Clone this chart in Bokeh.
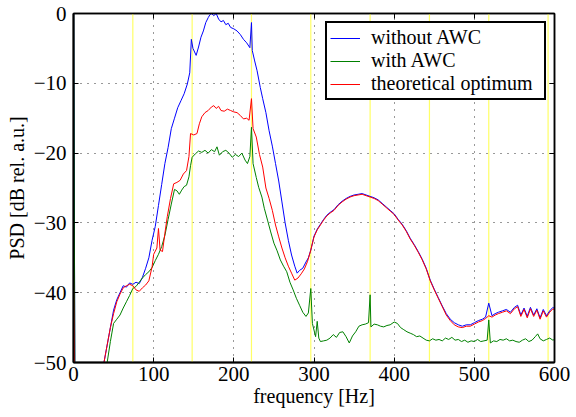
from bokeh.plotting import figure
from bokeh.models import Span, LinearAxis, FixedTicker, Range1d, Legend, LegendItem
from bokeh.embed import file_html
from bokeh.resources import INLINE

# ---- data ----
harmonics = [74, 148, 222, 296, 370, 444, 518, 592]

f_without = [0, 2, 38, 42, 46, 50, 54, 58, 62, 66, 70, 74, 78, 82, 86, 90, 94, 98, 102, 106,
             110, 114, 118, 122, 126, 130, 134, 138, 142, 145, 147, 149, 153, 156, 159, 162,
             165, 168, 170, 172, 175, 178, 181, 184, 187, 190, 193, 196, 200, 204, 208, 212,
             216, 220, 222, 223, 226, 229, 233, 236, 240, 244, 248, 252, 256, 260, 264, 268,
             272, 276, 279, 282, 286, 290, 293, 296,
             300, 304, 308, 312, 316, 320, 325, 330, 335, 340, 345, 350, 355, 360, 365, 370,
             375, 380, 385, 390, 395, 400, 405, 410, 415, 420, 425, 430, 435, 440, 445, 450,
             455, 460, 465, 470, 475, 480, 485, 490, 495, 500, 505, 510, 514, 518, 522, 526,
             530, 535, 540, 545, 550, 554, 558, 562, 566, 570, 574, 578, 582, 586, 590, 594,
             598, 600]
psd_without = [5, -60, -50, -47.5, -45, -42.5, -41, -40, -39, -39.2, -38.6, -38.8, -38.5, -38.7,
               -37.8, -36.5, -35, -32.5, -30.5, -27.5, -24.5, -21.5, -19.2, -16.5, -15, -13.5,
               -12.5, -11.5, -10.1, -8.5, -3.7, -5, -6.0, -4.8, -3.4, -2.5, -1.3, -0.6, -0.2, 0,
               -0.3, 0, -0.8, -1.2, -1.0, -1.6, -1.4, -2.0, -2.2, -2.5, -3.0, -3.7, -4.2, -4.9,
               -1.3, -5.3, -6.8, -8.2, -10.6, -12.2, -14.2, -16.8, -19.0, -21.5, -24, -27, -30,
               -32.5, -34.6, -36.2, -37.2, -36.8, -36.5, -35.6, -35.0, -33.9,
               -31.9, -30.9, -30.2, -29.5, -28.9, -28.5, -28.1, -27.4, -26.9, -26.5, -26.2,
               -26.0, -25.9, -25.8, -26.0, -26.2, -26.4, -26.7, -27.2, -27.7, -28.2, -28.7,
               -29.5, -30.2, -31.1, -32.2, -33.1, -34.1, -35.2, -36.5, -38.2, -39.5, -40.7,
               -41.9, -43.0, -43.8, -44.3, -44.6, -44.8, -44.6, -44.6, -44.3, -44.0, -43.8,
               -43.5, -41.5, -43.3, -43.0, -42.8, -42.6, -42.4, -42.8, -42.1, -41.8, -43.2,
               -42.2, -43.4, -42.1, -43.2, -42.3, -43.6, -42.4, -43.3, -42.6, -42.1, -42.3]

f_optimum = [0, 2, 38, 42, 46, 50, 54, 58, 62, 66, 70, 74, 78, 82, 86, 90, 94, 98, 100, 104,
             106, 108, 111, 114, 117, 121, 125, 129, 133, 137, 141, 144, 146, 150, 154, 157,
             160, 164, 168, 172, 175, 178, 181, 184, 188, 192, 196, 200, 204, 208, 212, 216,
             219, 222, 224, 228, 232, 236, 240, 244, 248, 252, 256, 260, 264, 268, 272, 276,
             280, 284, 288, 292, 296,
             300, 304, 308, 312, 316, 320, 325, 330, 335, 340, 345, 350, 355, 360, 365, 370,
             375, 380, 385, 390, 395, 400, 405, 410, 415, 420, 425, 430, 435, 440, 445, 450,
             455, 460, 465, 470, 475, 480, 485, 490, 495, 500, 505, 510, 514, 518, 522, 526,
             530, 535, 540, 545, 550, 554, 558, 562, 566, 570, 574, 578, 582, 586, 590, 594,
             598, 600]
psd_optimum = [-36.5, -60, -50, -47.5, -45, -43, -41.3, -40.2, -39.3, -39.0, -38.8, -39.0,
               -39.6, -39.8, -39.3, -38.9, -38.3, -36.3, -34.5, -33.6, -30.8, -33.9, -34.1,
               -31.5, -29.1, -26.5, -24.4, -24.2, -23.9, -23.0, -22.5, -20.5, -17.2, -17.4,
               -17.2, -15.8, -14.8, -14.2, -13.9, -13.4, -13.2, -13.6, -13.3, -13.9, -14.0,
               -13.7, -13.9, -14.1, -14.2, -14.6, -15.1, -15.0, -15.3, -12.2, -16.5, -17.7,
               -20.2, -22.0, -25.0, -26.5, -28.2, -30.3, -32.0, -33.6, -35.0, -36.2, -37.2,
               -38.2, -37.9, -37.3, -36.6, -35.5, -33.9,
               -32.0, -31.0, -30.3, -29.6, -29.0, -28.6, -28.2, -27.5, -27.0, -26.6, -26.3,
               -26.1, -26.0, -25.9, -26.1, -26.3, -26.5, -26.8, -27.3, -27.8, -28.3, -28.8,
               -29.6, -30.3, -31.2, -32.3, -33.2, -34.2, -35.3, -36.6, -38.3, -39.6, -40.8,
               -42.0, -43.2, -44.0, -44.6, -44.9, -45.0, -44.8, -44.8, -44.5, -44.2, -44.0,
               -43.7, -43.3, -43.5, -43.2, -43.0, -42.8, -42.6, -43.0, -42.3, -42.0, -43.4,
               -42.4, -43.6, -42.3, -43.4, -42.5, -43.8, -42.6, -43.5, -42.8, -42.3, -42.5]

f_with = [0, 2, 42, 46, 50, 54, 58, 62, 66, 70, 74, 78, 82, 86, 90, 94, 98, 102, 106, 110,
          114, 118, 122, 126, 129, 132, 135, 138, 141, 144, 146, 148, 152, 156, 160, 164, 168,
          172, 176, 179, 182, 186, 190, 194, 198, 202, 206, 210, 214, 217, 220, 222, 224, 228,
          231, 235, 238, 242, 246, 250, 254, 258, 262, 266, 270, 274, 278, 282, 286, 290, 293,
          296, 298, 302, 304, 306, 308, 312, 316, 320, 324, 328, 332, 336, 340, 344, 348, 352,
          356, 360, 364, 368, 370, 371, 375, 379, 383, 387, 391, 395, 400, 404, 408, 412, 416,
          420, 424, 428, 432, 436, 440, 444, 448, 452, 456, 460, 464, 468, 472, 476, 480, 484,
          488, 492, 496, 500, 504, 508, 512, 516, 518, 520, 524, 528, 532, 536, 540, 544, 548,
          552, 556, 560, 564, 568, 572, 576, 579, 582, 586, 590, 594, 598, 600]
psd_with = [5, -60, -50, -47, -44.4, -43.8, -43.2, -42.2, -41.3, -40.4, -39.4, -39.1, -38.5,
            -37.9, -37.4, -37.0, -36.4, -35.4, -34.5, -33.4, -31.8, -29.5, -27.3, -25.2, -25.4,
            -25.9, -25.3, -24.8, -24.6, -23.4, -21.8, -20.6, -20.1, -19.7, -19.9, -19.6, -20.0,
            -19.5, -19.8, -19.1, -20.3, -19.8, -19.6, -20.0, -20.6, -20.2, -20.5, -20.0, -21.0,
            -21.5, -20.5, -16.3, -21.5, -23.5, -24.9, -26.3, -27.9, -29.6, -31.3, -32.9, -34.0,
            -35.3, -36.2, -37.0, -38.5, -39.6, -40.8, -41.8, -42.8, -43.4, -42.9, -39.4, -44.4,
            -46.3, -44.1, -46.5, -47.0, -46.9, -46.8, -46.5, -46.0, -46.4, -45.7, -45.6, -46.3,
            -47.2, -46.2, -45.6, -44.8, -44.6, -44.5, -44.3, -40.3, -44.9, -44.5, -44.6, -44.8,
            -44.9, -44.7, -44.6, -44.2, -44.4, -45.0, -45.3, -45.6, -45.8, -46.0, -46.3, -46.2,
            -46.5, -46.8, -46.9, -46.6, -46.8, -46.7, -46.9, -46.5, -46.7, -46.4, -46.8, -46.7,
            -47.0, -46.8, -47.1, -46.9, -47.0, -46.7, -47.0, -46.9, -46.8, -43.9, -47.2, -46.9,
            -47.0, -46.7, -46.8, -46.6, -46.9, -46.8, -47.0, -47.1, -46.8, -46.6, -47.0, -46.8,
            -46.3, -45.9, -46.6, -46.9, -46.7, -46.5, -46.8, -46.7]

x_ticks = [0, 100, 200, 300, 400, 500, 600]
y_ticks = [-50, -40, -30, -20, -10, 0]

FONT = "Liberation Serif"

p = figure(width=576, height=417, output_backend="svg", toolbar_location=None,
           x_range=Range1d(0, 600), y_range=Range1d(-50, 0),
           min_border_left=73, min_border_right=22, min_border_top=13, min_border_bottom=55)
p.background_fill_color = "white"
p.border_fill_color = "white"
p.outline_line_color = "black"
p.outline_line_width = 1.5

for h in harmonics:
    p.add_layout(Span(location=h, dimension="height", line_color="#ffff66",
                      line_width=1.2, level="underlay"))

r_without = p.line(f_without, psd_without, line_color="#0000ff", line_width=1)
r_with = p.line(f_with, psd_with, line_color="#008000", line_width=1)
r_opt = p.line(f_optimum, psd_optimum, line_color="#ff0000", line_width=1)

for ax in [p.xaxis[0], p.yaxis[0]]:
    ax.major_label_text_font = FONT
    ax.major_label_text_font_size = "21px"
    ax.major_label_text_color = "black"
    ax.axis_label_text_font = FONT
    ax.axis_label_text_font_size = "20px"
    ax.axis_label_text_font_style = "normal"
    ax.axis_label_text_color = "black"
    ax.axis_line_color = "black"
    ax.axis_line_width = 2
    ax.major_tick_in = 5
    ax.major_tick_out = 0
    ax.major_tick_line_color = "black"
    ax.minor_tick_line_color = None

p.xaxis[0].ticker = FixedTicker(ticks=x_ticks)
p.yaxis[0].ticker = FixedTicker(ticks=y_ticks)
p.xaxis[0].axis_label = "frequency [Hz]"
p.yaxis[0].axis_label = "PSD [dB rel. a.u.]"
p.xaxis[0].major_label_standoff = 4
p.yaxis[0].major_label_standoff = 7
p.xaxis[0].axis_label_standoff = 1
p.yaxis[0].axis_label_standoff = 3

blank_x = {t: "" for t in x_ticks}
blank_y = {t: "" for t in y_ticks}
top_ax = LinearAxis(ticker=FixedTicker(ticks=x_ticks), major_label_overrides=blank_x,
                    major_tick_in=5, major_tick_out=0, minor_tick_line_color=None,
                    axis_line_color="black", axis_line_width=1.5, major_label_standoff=0)
right_ax = LinearAxis(ticker=FixedTicker(ticks=y_ticks), major_label_overrides=blank_y,
                      major_tick_in=5, major_tick_out=0, minor_tick_line_color=None,
                      axis_line_color="black", axis_line_width=1.5, major_label_standoff=0)
p.add_layout(top_ax, "above")
p.add_layout(right_ax, "right")

p.xgrid.ticker = FixedTicker(ticks=x_ticks)
p.ygrid.ticker = FixedTicker(ticks=y_ticks)
for g in [p.xgrid[0], p.ygrid[0]]:
    g.grid_line_color = "black"
    g.grid_line_dash = "1 6"
    g.grid_line_width = 1
    g.grid_line_alpha = 0.8

legend = Legend(items=[LegendItem(label="without AWC", renderers=[r_without]),
                       LegendItem(label="with AWC", renderers=[r_with]),
                       LegendItem(label="theoretical optimum", renderers=[r_opt])],
                location="top_right")
legend.label_text_font = FONT
legend.label_text_font_size = "20px"
legend.label_text_color = "black"
legend.border_line_color = "black"
legend.border_line_alpha = 1
legend.border_line_width = 2
legend.background_fill_alpha = 1
legend.padding = 3
legend.spacing = -3
legend.margin = 8
legend.glyph_width = 30
legend.glyph_height = 18
legend.label_height = 18
legend.label_standoff = 11
legend.label_width = 170
p.add_layout(legend)

open("out.html", "w").write(file_html(p, INLINE))
